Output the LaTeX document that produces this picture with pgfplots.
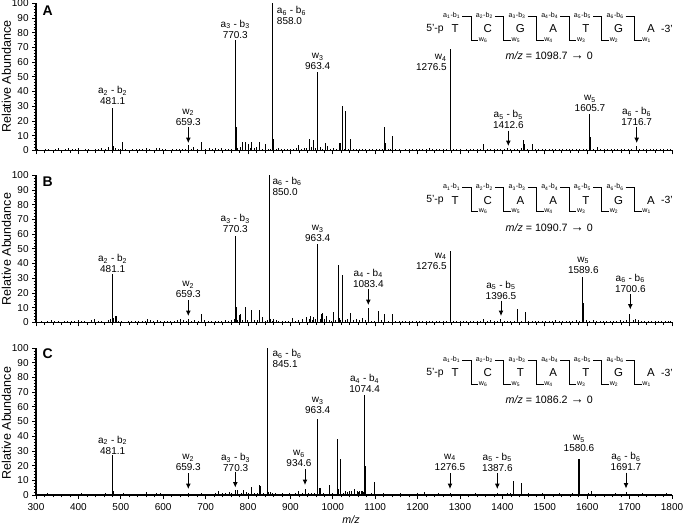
\documentclass[border=0pt]{standalone}
\usepackage{fontspec}
\setmainfont{Liberation Sans}
\usepackage{pgfplots}
\pgfplotsset{compat=1.18}
\usetikzlibrary{arrows.meta}

% reference pixels are 0.75pt here
\pgfplotsset{
  msms/.style={
    scale only axis, width=477pt, height=110.25pt,
    xmin=300, xmax=1800, ymin=0, ymax=100,
    axis lines*=left,
    axis line style={line width=0.85pt},
    xtick={300,400,...,1800}, ytick={0,10,...,100},
    minor x tick num=4, minor y tick num=4,
    tick align=outside, tick pos=left,
    major tick length=3pt, minor tick length=1.8pt,
    every tick/.style={black,line width=0.5pt},
    minor tick style={black,line width=0.45pt},
    tick label style={font=\fontsize{7.5}{8}\selectfont},
    /pgf/number format/assume math mode=true,
    /pgf/number format/1000 sep={},
    yticklabel style={xshift=1pt},
    xticklabel style={yshift=0.5pt},
    enlargelimits=false,
  },
  peak/.style={ycomb, black, line width=0.8pt, mark=none},
  noise/.style={ycomb, black, line width=0.6pt, mark=none},
}

\newcommand{\pk}[4]{\node[font=\fontsize{7.5}{8.2}\selectfont, align=center, inner sep=0pt] at (#1,#2) {#3\\#4};}
\newcommand{\pkr}[4]{\node[font=\fontsize{7.5}{8.2}\selectfont, align=right, anchor=east, inner sep=0pt] at (#1,#2) {#3\\#4};}
\newcommand{\pkl}[4]{\node[font=\fontsize{7.5}{8.2}\selectfont, align=left, anchor=west, inner sep=0pt] at (#1,#2) {#3\\#4};}
\newcommand{\down}[3]{\draw[-{Latex[length=4pt,width=3.6pt]}, line width=0.65pt] (#1,#2) -- (#1,#3);}
\newcommand{\ion}[3]{#1\textsubscript{#2} - #3\textsubscript{#2}}

% sequence ladder, #1 = vertical offset, #2-#8 = bases, #9 = precursor m/z
\newcommand{\ladder}[9]{
  \node[font=\fontsize{7.8}{8}\selectfont] at (435,29+#1) {5'-p};
  \node[font=\fontsize{7.8}{8}\selectfont] at (667,29+#1) {-3'};
  \foreach \b/\xx in {#2/455,#3/487.7,#4/520.4,#5/553.1,#6/585.8,#7/618.5,#8/651}
    \node[font=\fontsize{8.6}{9}\selectfont] at (\xx,29+#1) {\b};
  \foreach \i/\w/\xx in {1/6/451.7,2/5/484.4,3/4/517.1,4/3/549.8,5/2/582.5,6/1/615.2}{
    \node[font=\fontsize{5.3}{5.5}\selectfont, inner sep=0pt] at (\xx,15.7+#1) {a\textsubscript{\i}-b\textsubscript{\i}};
    \draw[line width=0.7pt] (\xx+10.5,16+#1) -- (\xx+19.3,16+#1) -- (\xx+19.3,40+#1) -- (\xx+26.5,40+#1);
    \node[font=\fontsize{5.3}{5.5}\selectfont, inner sep=0pt, anchor=west] at (\xx+27,40+#1) {w\textsubscript{\w}};
  }
  \node[font=\fontsize{8}{9}\selectfont] at (549.3,56+#1) {\textit{m/z} = #9 {\fontsize{10}{9}\selectfont\textbf{→}} 0};
}

\begin{document}
\begin{tikzpicture}
\path[use as bounding box] (0,0) rectangle (512.25pt,393.75pt);

% ---------- A ----------
\begin{axis}[msms, at={(27pt,281pt)}, anchor=south west, xticklabels={}]
\addplot[noise] coordinates {
(304,0.6)(312,0.3)(321,0.8)(329,1.2)(337,0.5)(346,0.9)(353,1.3)(361,0.4)(370,0.8)(376,1.4)(385,0.6)(392,0.9)
(401,1.5)(408,0.5)(416,0.8)(424,1.0)(431,0.4)(440,1.2)(447,0.7)(455,1.4)(463,1.0)(470,2.0)(476,0.5)(487,1.5)
(494,1.0)(500,0.6)(512,0.9)(520,0.4)(528,0.8)(536,0.6)(544,1.1)(552,0.7)(560,1.8)(567,0.6)(575,0.5)(583,1.6)
(590,1.3)(598,0.8)(606,1.1)(614,0.4)(622,0.7)(630,1.2)(638,0.9)(645,1.0)(652,0.6)(666,1.0)(672,2.0)(680,1.1)
(700,0.9)(708,1.3)(715,0.7)(722,1.4)(730,1.2)(738,1.3)(746,0.9)(754,0.7)(762,1.1)(776,1.6)(781,2.0)(795,1.0)
(805,1.4)(815,1.5)(820,2.0)(835,1.0)(847,1.2)(852,0.9)(866,1.0)(871,1.5)(878,1.2)(885,0.9)(892,1.0)(900,0.8)
(908,1.1)(914,1.3)(926,1.2)(932,1.6)(938,1.8)(950,2.0)(958,1.5)(970,2.0)(975,1.2)(994,1.0)(1001,1.8)(1008,0.7)
(1027,1.0)(1036,1.1)(1048,0.9)(1055,1.2)(1062,0.7)(1070,1.0)(1078,0.6)(1086,0.9)(1094,1.1)(1102,0.7)(1110,1.0)
(1118,1.2)(1130,0.9)(1136,1.0)(1148,0.8)(1156,1.1)(1164,0.5)(1172,0.9)(1180,0.7)(1188,1.2)(1196,1.0)(1204,0.6)
(1212,0.9)(1220,1.1)(1228,1.5)(1236,0.8)(1244,1.0)(1252,0.7)(1260,1.2)(1268,0.9)(1284,0.8)(1292,0.6)(1300,1.0)
(1308,0.5)(1316,0.9)(1324,1.1)(1332,0.7)(1340,1.0)(1348,0.8)(1364,1.0)(1372,0.6)(1380,1.1)(1388,0.8)(1396,0.9)
(1404,0.6)(1420,0.9)(1428,0.7)(1436,1.0)(1444,1.3)(1460,0.8)(1478,0.7)(1486,1.0)(1494,0.6)(1502,0.9)(1510,1.1)
(1518,0.7)(1526,0.9)(1534,1.0)(1542,0.6)(1550,0.9)(1558,0.7)(1566,1.1)(1574,0.8)(1582,0.6)(1590,0.9)(1598,1.0)
(1615,0.8)(1632,1.0)(1640,0.6)(1648,0.8)(1656,1.0)(1664,0.7)(1672,0.9)(1680,1.1)(1688,0.6)(1696,0.9)(1704,1.2)
(1724,0.8)(1732,1.0)(1740,0.6)(1748,0.9)(1756,0.7)(1764,1.1)(1772,0.8)(1780,0.6)(1788,1.0)(1796,0.8)
};
\addplot[peak] coordinates {
(481.1,29)(483.5,3)(504.5,5.5)(659.3,3.5)(691,6)(770.3,75)(772.2,16)(788,5.5)(793,6)(801,4.5)(809,5.5)
(827.5,6)(842,4)(858,100)(860,8)(920,3.5)(946,7.5)(955,7)(963.4,53)(965,13)(982,5)(988,3)(1017,5)(1022,30)
(1031,27)(1042,7.5)(1123,16)(1125,5)(1141,10)(1276.5,69)(1278,24)(1356,4)(1412.6,1.5)(1450,7)(1452,4)(1470,4.5)
(1605.7,25)(1607,9)(1625,2)(1716.7,3)
};
\end{axis}

% ---------- B ----------
\begin{axis}[msms, at={(27pt,152pt)}, anchor=south west, xticklabels={}]
\addplot[noise] coordinates {
(305,0.5)(313,0.9)(320,0.4)(328,1.0)(336,1.6)(344,0.7)(352,0.9)(360,0.5)(368,1.0)(375,1.2)(383,0.6)(391,0.9)
(399,1.4)(407,0.7)(415,1.0)(423,0.5)(431,1.6)(438,2.0)(446,0.8)(454,1.0)(462,0.5)(470,1.4)(476,2.0)(494,0.7)
(502,1.0)(510,0.5)(518,0.8)(526,1.1)(534,0.6)(542,0.9)(550,1.2)(558,1.0)(562,2.0)(570,1.3)(578,1.0)(586,1.6)
(594,0.9)(602,1.2)(610,0.7)(618,1.0)(626,0.6)(634,1.5)(640,2.0)(648,1.4)(655,1.0)(666,0.9)(674,1.6)(682,1.2)
(698,1.6)(706,0.7)(714,1.0)(722,1.1)(730,0.8)(738,1.0)(746,1.3)(754,0.9)(762,1.6)(767,2.0)(776,1.5)(786,1.8)
(799,1.5)(815,1.4)(822,1.5)(840,1.2)(845,1.6)(857,1.2)(866,1.3)(872,0.9)(880,1.1)(888,0.8)(896,0.9)(912,1.0)
(920,1.4)(928,2.5)(944,2.0)(951,1.8)(958,2.0)(970,2.2)(981,2.0)(992,1.5)(997,1.2)(1007,1.5)(1019,1.6)(1030,1.5)
(1035,2.0)(1048,1.8)(1055,2.5)(1062,1.8)(1069,3.0)(1076,1.5)(1090,1.0)(1098,1.2)(1114,1.5)(1130,1.2)(1148,1.0)
(1156,0.8)(1164,1.0)(1172,0.6)(1180,0.9)(1188,1.2)(1196,0.8)(1204,0.6)(1212,1.0)(1220,0.7)(1228,0.9)(1236,0.6)
(1244,1.0)(1252,0.7)(1260,0.9)(1268,1.1)(1284,0.8)(1292,1.2)(1300,0.7)(1308,1.0)(1316,0.6)(1324,1.1)(1332,0.7)
(1340,0.9)(1348,1.2)(1364,1.0)(1372,1.4)(1380,0.8)(1388,1.0)(1404,0.9)(1412,0.6)(1420,1.0)(1428,0.7)(1444,1.0)
(1462,0.9)(1470,1.2)(1478,0.7)(1486,1.0)(1494,0.8)(1502,1.1)(1510,0.7)(1518,1.0)(1526,1.3)(1534,0.8)(1542,1.0)
(1550,0.7)(1558,1.2)(1566,0.9)(1574,1.4)(1582,1.0)(1598,1.4)(1606,1.0)(1614,1.5)(1622,0.9)(1630,1.2)(1638,0.7)
(1646,1.0)(1654,1.2)(1662,0.8)(1670,1.0)(1678,1.3)(1686,0.9)(1693,1.5)(1708,1.8)(1720,1.5)(1728,1.0)(1736,0.7)
(1744,1.0)(1752,0.8)(1760,1.1)(1768,0.7)(1776,0.9)(1784,1.1)(1792,0.7)(1797,1.0)
};
\addplot[peak] coordinates {
(481.1,33)(483,3)(488.7,4.5)(659.3,2)(691,5.5)(770.3,59)(772,10.5)(780,5)(781.5,6)(793,10.5)(809,8.5)
(827.5,8.5)(833.6,3.5)(850,100)(853,2.5)(860,2)(905,3)(938,3.5)(947,4.5)(955,3.5)(963.4,53)(965,15)(974,6)(976,6.5)
(985,4)(1002,7)(1013,39)(1016,3)(1023,32)(1042,6.5)(1071,3)(1083.4,10)(1107,8)(1123,6)(1141,6)
(1276.5,48.5)(1278,16)(1356,2.5)(1396.5,2)(1435,9)(1454,7)(1589.6,31)(1591,13)(1700.6,6)(1714,2.5)
};
\end{axis}

% ---------- C ----------
\begin{axis}[msms, at={(27pt,22.5pt)}, anchor=south west]
\addplot[noise] coordinates {
(303,0.7)(311,1.0)(319,0.5)(327,1.1)(335,0.8)(343,0.5)(351,1.0)(359,0.7)(367,0.9)(375,1.0)(383,0.6)(391,0.9)
(399,0.7)(407,1.1)(415,0.5)(423,0.8)(431,1.0)(439,0.6)(447,0.9)(455,0.8)(463,1.2)(470,1.0)(476,0.9)(488,0.6)
(496,0.9)(505,1.5)(513,0.8)(521,0.6)(529,0.9)(537,0.7)(545,1.0)(553,0.8)(561,2.0)(569,0.7)(577,0.9)(585,1.2)
(593,1.3)(601,0.9)(609,0.6)(617,1.0)(625,0.7)(633,0.9)(641,0.6)(649,1.0)(659.3,1.5)(667,0.8)(675,0.6)(683,1.0)
(691,1.1)(699,0.7)(707,1.0)(715,0.8)(723,1.2)(731,2.5)(739,1.6)(747,1.4)(755,1.8)(762,1.3)(770,2.0)(784,1.5)
(800,1.2)(816,1.3)(822,1.6)(836,1.2)(852,1.8)(858,1.2)(865,1.4)(873,1.0)(881,1.2)(889,0.8)(897,1.3)(905,1.0)
(912,1.2)(928,1.5)(943,1.6)(950,1.3)(957,1.5)(978,1.2)(985,1.0)(1000,1.2)(1005,1.0)(1025,1.2)(1035,2.0)(1045,2.5)
(1057,2.5)(1061,2.0)(1067,2.5)(1071,2.0)(1082,0.8)(1090,1.2)(1104,1.0)(1112,0.7)(1120,1.1)(1128,0.8)(1136,1.0)
(1144,0.7)(1152,0.9)(1160,1.1)(1168,0.7)(1176,1.0)(1184,0.8)(1192,0.9)(1200,1.1)(1208,0.8)(1224,1.0)(1232,0.7)
(1240,0.9)(1248,1.1)(1256,0.7)(1264,1.0)(1272,0.8)(1280,0.7)(1288,1.0)(1296,0.6)(1304,0.9)(1312,0.7)(1320,1.0)
(1328,0.8)(1336,1.1)(1344,0.7)(1352,0.9)(1360,0.8)(1368,1.0)(1376,0.7)(1387.6,1.5)(1396,1.0)(1404,0.8)(1412,1.1)
(1420,1.3)(1436,1.0)(1454,0.9)(1462,1.2)(1470,0.8)(1478,1.0)(1486,0.7)(1494,1.1)(1502,0.8)(1510,1.0)(1518,0.7)
(1526,0.9)(1534,1.1)(1542,0.7)(1550,1.0)(1558,0.8)(1566,1.1)(1574,0.9)(1588,1.0)(1596,0.8)(1604,1.2)(1618,1.0)
(1626,0.7)(1634,0.9)(1642,1.0)(1650,0.7)(1658,0.9)(1666,1.1)(1674,0.7)(1682,1.0)(1698,0.9)(1706,0.7)(1714,1.0)
(1722,0.8)(1730,1.1)(1738,0.7)(1746,0.9)(1754,1.0)(1762,0.7)(1770,1.0)(1778,0.8)(1786,1.1)(1794,0.8)
};
\addplot[peak] coordinates {
(481.1,27)(483,3)(770.3,3.5)(776,3.5)(790,3.5)(796,2)(809,5.5)(828,7)(830,6)(845.1,100)(848,2)(920,3)
(934.6,4)(963.4,52)(965,14)(969,4.5)(972,5)(993,6.5)(1010,38)(1013,4)(1019,24.5)(1031,3)(1040,3)(1052,4)(1064,3)
(1069,3)(1074.4,68)(1076,20)(1098,9)(1217,2)(1276.5,1.5)(1427,9.5)(1446,8)(1580.6,24.5)(1582,10)(1611,3)(1691.7,2)
};
\end{axis}

% ---------- annotations, in reference pixels from the top left ----------
\begin{scope}[x=0.75pt, y=-0.75pt, shift={(0pt,393.75pt)}]
  \foreach \l/\yy in {A/10.7,B/182,C/354}
    \node[font=\fontsize{10.5}{11}\selectfont\bfseries] at (47.7,\yy) {\l};
  \foreach \yy in {76.7,249,423}
    \node[rotate=90, font=\fontsize{9.4}{10}\selectfont] at (6.5,\yy) {Relative Abundance};
  \node[font=\fontsize{8}{9}\selectfont\itshape] at (351,520) {m/z};

  % A
  \pk{112.7}{95.5}{\ion a2b}{481.1}
  \pk{188.3}{117}{w\textsubscript{2}}{659.3}
  \down{188.3}{127}{143}
  \pk{235.3}{29}{\ion a3b}{770.3}
  \pkl{276.7}{15.5}{\ion a6b}{858.0}
  \pk{317.7}{61.5}{w\textsubscript{3}}{963.4}
  \pkr{447}{62.5}{w\textsubscript{4}}{1276.5}
  \pk{508.3}{119.5}{\ion a5b}{1412.6}
  \down{508.3}{130.7}{146}
  \pk{590}{103.5}{w\textsubscript{5}}{1605.7}
  \pk{636.7}{116.5}{\ion a6b}{1716.7}
  \down{636.7}{127}{143}
  \ladder{0}{T}{C}{G}{A}{T}{G}{A}{1098.7}

  % B
  \pk{112.7}{263.5}{\ion a2b}{481.1}
  \pk{188.3}{289.5}{w\textsubscript{2}}{659.3}
  \down{188.3}{300.3}{316}
  \pk{235.3}{223.7}{\ion a3b}{770.3}
  \pkl{272.3}{186}{\ion a6b}{850.0}
  \pk{317.7}{233.7}{w\textsubscript{3}}{963.4}
  \pk{368.3}{278}{\ion a4b}{1083.4}
  \down{368.3}{289.3}{305}
  \pkr{447}{261}{w\textsubscript{4}}{1276.5}
  \pk{501}{290}{\ion a5b}{1396.5}
  \down{501}{300.7}{316}
  \pk{583.3}{265}{w\textsubscript{5}}{1589.6}
  \pk{630.3}{283}{\ion a6b}{1700.6}
  \down{630.3}{294}{309.5}
  \ladder{171.3}{T}{C}{A}{A}{T}{G}{A}{1090.7}

  % C
  \pk{112.7}{445}{\ion a2b}{481.1}
  \pk{188.3}{462.3}{w\textsubscript{2}}{659.3}
  \down{188.3}{473.3}{489}
  \pk{235.7}{462.3}{\ion a3b}{770.3}
  \down{235.3}{472}{487.5}
  \pkl{272.3}{358.3}{\ion a6b}{845.1}
  \pk{299}{458.3}{w\textsubscript{6}}{934.6}
  \down{305}{469.3}{485}
  \pk{317.7}{405.3}{w\textsubscript{3}}{963.4}
  \pk{364.7}{383.3}{\ion a4b}{1074.4}
  \pk{450}{462}{w\textsubscript{4}}{1276.5}
  \down{450}{473.3}{489}
  \pk{497.3}{462}{\ion a5b}{1387.6}
  \down{497.3}{473.3}{489}
  \pk{579}{443.3}{w\textsubscript{5}}{1580.6}
  \pk{626}{461.3}{\ion a6b}{1691.7}
  \down{626}{472.7}{488.5}
  \ladder{344}{T}{C}{T}{A}{T}{G}{A}{1086.2}
\end{scope}
\end{tikzpicture}
\end{document}
